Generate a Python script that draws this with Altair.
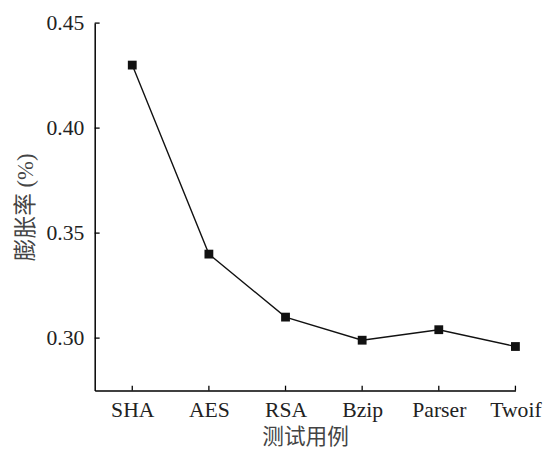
import altair as alt
import pandas as pd

categories = ["SHA", "AES", "RSA", "Bzip", "Parser", "Twoif"]
values = [0.430, 0.340, 0.310, 0.299, 0.304, 0.296]
y_ticks = [0.30, 0.35, 0.40, 0.45]

W, H = 427, 373
FONT = "Liberation Serif, Times New Roman, serif"
TFONT = "Liberation Serif, Noto Sans CJK SC, serif"

df = pd.DataFrame({"idx": list(range(len(categories))), "cat": categories, "val": values})
ydf = pd.DataFrame({"t": y_ticks})
xdf = pd.DataFrame({"idx": list(range(len(categories)))})

label_expr = "[" + ",".join("'%s'" % c for c in categories) + "][datum.value]"

xscale = alt.Scale(domain=[-0.49, 5], nice=False, zero=False)
yscale = alt.Scale(domain=[0.275, 0.45], nice=False, zero=False)

xaxis = alt.Axis(values=list(range(len(categories))), labelExpr=label_expr, tickSize=0,
                 labelPadding=9, labelFontSize=22, labelFont=FONT, labelColor="#222",
                 title="测试用例", titleFont=TFONT, titleFontSize=22, titleFontWeight="normal",
                 titleColor="#444", titlePadding=7, domainColor="#000", domainWidth=1.5,
                 grid=False, labelFlush=False)
yaxis = alt.Axis(values=y_ticks, format=".2f", tickSize=0, labelPadding=11, labelFontSize=22,
                 labelFont=FONT, labelColor="#222", title="膨胀率 (%)", titleFont=TFONT,
                 titleFontSize=23, titleFontWeight="normal", titleColor="#444",
                 titlePadding=9, domainColor="#000", domainWidth=1.5, grid=False)

line = alt.Chart(df).mark_line(color="#111", strokeWidth=1.4).encode(
    x=alt.X("idx:Q", scale=xscale, axis=xaxis),
    y=alt.Y("val:Q", scale=yscale, axis=yaxis),
)
pts = alt.Chart(df).mark_point(shape="square", filled=True, color="#111", size=80, opacity=1).encode(
    x=alt.X("idx:Q", scale=xscale),
    y=alt.Y("val:Q", scale=yscale),
)
yt = alt.Chart(ydf).mark_rule(color="#000", strokeWidth=1.3).encode(
    y=alt.Y("t:Q", scale=yscale), x=alt.value(0), x2=alt.value(5)
)
xt = alt.Chart(xdf).mark_rule(color="#000", strokeWidth=1.3).encode(
    x=alt.X("idx:Q", scale=xscale), y=alt.value(H), y2=alt.value(H - 5)
)

chart = alt.layer(line, pts, yt, xt).properties(
    width=W, height=H,
    autosize=alt.AutoSizeParams(type="none"),
    padding={"left": 88, "top": 12, "right": 29, "bottom": 60},
).configure(background="white", font="Liberation Serif").configure_view(stroke=None, strokeWidth=0)

chart.save("out.html", embed_options={"renderer": "svg", "actions": False})
